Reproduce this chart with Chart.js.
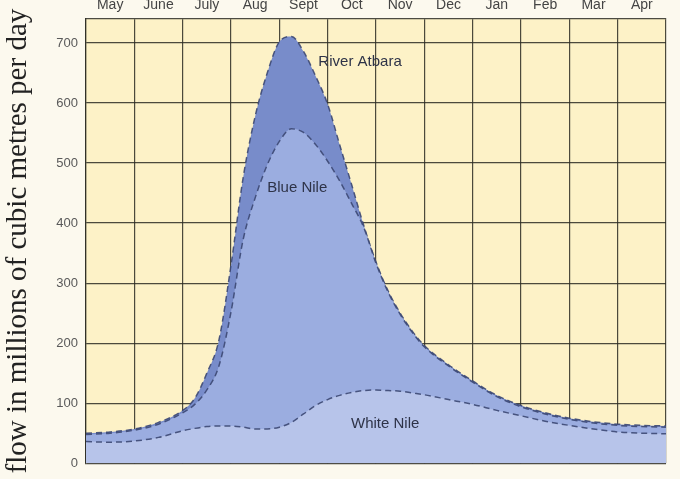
<!DOCTYPE html>
<html>
<head>
<meta charset="utf-8">
<script src="https://cdn.jsdelivr.net/npm/chart.js@4.4.1/dist/chart.umd.min.js"></script>
<style>
  html, body { margin: 0; padding: 0; background: #fcf9ee; }
  #wrap { width: 680px; height: 479px; position: relative; }
</style>
</head>
<body>
<div id="wrap"><canvas id="grafico"></canvas></div>
<script>
// month names along the top, one per column
const meses = ['May', 'June', 'July', 'Aug', 'Sept', 'Oct', 'Nov', 'Dec', 'Jan', 'Feb', 'Mar', 'Apr'];

// sample positions in months from the start of May
const posicoes = [0, 0.5, 1, 1.5, 2, 2.25, 2.5, 2.75, 3, 3.25, 3.5, 3.75, 4, 4.25, 4.5, 4.75,
    5, 5.25, 5.5, 5.75, 6, 6.25, 6.5, 6.75, 7, 7.5, 8, 8.5, 9, 9.5, 10, 10.5, 11, 11.5, 12];

// cumulative flows (millions of m3 per day)
const topoAtbara = [50, 52, 57, 68, 88, 108, 150, 205, 330, 475, 578, 650, 702, 711, 686, 645,
    598, 530, 463, 395, 335, 287, 250, 220, 196, 164, 137, 113, 96, 84, 75, 69, 65, 63, 62];
const topoBlueNile = [48, 50, 55, 65, 84, 98, 122, 162, 252, 372, 442, 497, 536, 557, 551, 531,
    503, 470, 432, 392, 333, 285, 248, 218, 194, 162, 135, 111, 94, 82, 73, 67, 63, 61, 60];
const whiteNile = [36, 35, 37, 43, 54, 58, 61, 62, 62, 60, 57, 57, 60, 68, 82, 96,
    106, 113, 118, 121, 122, 121, 120, 117, 114, 106, 98, 88, 79, 70, 63, 57, 52, 50, 49];

const yTicks = [0, 100, 200, 300, 400, 500, 600, 700];

// river names written on the areas
const rotulos = [
    { texto: 'River Atbara', x: 5.67, y: 669 },
    { texto: 'Blue Nile', x: 4.37, y: 458 },
    { texto: 'White Nile', x: 6.19, y: 65 }
];

function pontos(valores) {
    return posicoes.map((p, i) => ({ x: p, y: valores[i] }));
}

const corGrade = 'rgba(45, 45, 35, 0.85)';
const corTraco = 'rgba(60, 72, 115, 0.9)';

const fundoPlugin = {
    id: 'fundo',
    beforeDraw(chart) {
        const { ctx, chartArea } = chart;
        ctx.save();
        ctx.fillStyle = '#fcf9ee';
        ctx.fillRect(0, 0, chart.width, chart.height);
        ctx.fillStyle = '#fdf2c7';
        ctx.fillRect(chartArea.left, chartArea.top, chartArea.right - chartArea.left, chartArea.bottom - chartArea.top);
        ctx.restore();
    }
};

const rotulosPlugin = {
    id: 'rotulos',
    afterDraw(chart) {
        const { ctx, scales } = chart;
        ctx.save();
        ctx.font = '15px "Liberation Sans", Arial, sans-serif';
        ctx.fillStyle = '#2e3348';
        ctx.textAlign = 'center';
        ctx.textBaseline = 'middle';
        rotulos.forEach(r => {
            ctx.fillText(r.texto, scales.x.getPixelForValue(r.x), scales.y.getPixelForValue(r.y));
        });
        ctx.restore();
    }
};

const ctx = document.getElementById('grafico').getContext('2d');

new Chart(ctx, {
    type: 'line',
    data: {
        datasets: [{
            label: 'White Nile',
            data: pontos(whiteNile),
            backgroundColor: '#b7c4ea',
            borderColor: corTraco,
            borderWidth: 1.5,
            borderDash: [6, 4],
            fill: 'origin'
        }, {
            label: 'Blue Nile',
            data: pontos(topoBlueNile),
            backgroundColor: '#9bade0',
            borderColor: corTraco,
            borderWidth: 1.5,
            borderDash: [6, 4],
            fill: 'origin'
        }, {
            label: 'River Atbara',
            data: pontos(topoAtbara),
            backgroundColor: '#788cca',
            borderColor: corTraco,
            borderWidth: 1.5,
            borderDash: [6, 4],
            fill: 'origin'
        }]
    },
    options: {
        responsive: true,
        maintainAspectRatio: false,
        animation: false,
        layout: { padding: { left: 0, right: 14, top: 0, bottom: 5 } },
        elements: {
            point: { radius: 0 },
            line: { cubicInterpolationMode: 'monotone' }
        },
        plugins: {
            legend: { display: false },
            tooltip: { enabled: false }
        },
        scales: {
            x: {
                type: 'linear',
                position: 'top',
                min: 0,
                max: 12,
                z: 1,
                afterFit: (scale) => { scale.height = 19; },
                border: { display: true, color: corGrade, width: 1.2 },
                grid: {
                    drawTicks: false,
                    lineWidth: 1.2,
                    color: (c) => Number.isInteger(c.tick.value) ? corGrade : 'transparent'
                },
                ticks: {
                    stepSize: 0.5,
                    autoSkip: false,
                    maxRotation: 0,
                    padding: 5,
                    color: '#444',
                    font: { family: '"Liberation Sans", Arial, sans-serif', size: 14 },
                    callback: (v) => Number.isInteger(v) ? '' : meses[Math.floor(v)]
                }
            },
            y: {
                min: 0,
                max: 740,
                z: 1,
                afterFit: (scale) => { scale.width = 86; },
                afterBuildTicks: (scale) => {
                    scale.ticks = yTicks.map(v => ({ value: v }));
                },
                border: { display: true, color: corGrade, width: 1.2 },
                grid: { drawTicks: false, lineWidth: 1.2, color: corGrade },
                ticks: {
                    padding: 8,
                    color: '#5a5a5a',
                    font: { family: '"Liberation Sans", Arial, sans-serif', size: 13 }
                },
                title: {
                    display: true,
                    text: 'flow in millions of cubic metres per day',
                    color: '#222',
                    padding: { top: 1, bottom: 0 },
                    font: { family: '"Liberation Serif", "Times New Roman", serif', size: 29 }
                }
            }
        }
    },
    plugins: [fundoPlugin, rotulosPlugin]
});
</script>
</body>
</html>
